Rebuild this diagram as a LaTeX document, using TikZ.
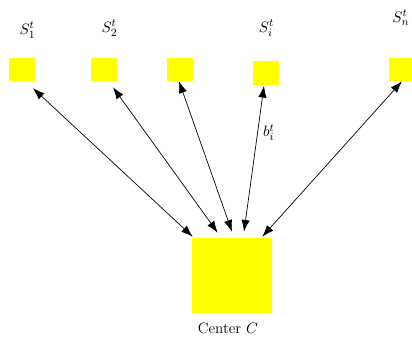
\documentclass[tikz,border=0pt]{standalone}
\usetikzlibrary{arrows.meta}
\definecolor{boxyellow}{RGB}{255,255,0}
\begin{document}
\begin{tikzpicture}[x=0.725pt,y=-0.725pt,
  every node/.style={font=\fontsize{11}{13}\selectfont},
  site/.style={fill=boxyellow,inner sep=0pt,minimum width=18.9pt,minimum height=16.7pt},
  hub/.style={fill=boxyellow,inner sep=0pt,minimum width=58pt,minimum height=54.4pt},
  link/.style={{Latex[length=8.5pt,width=6pt]}-{Latex[length=8.5pt,width=6pt]},line width=0.5pt}]
\useasboundingbox (0,0) rectangle (412,337);
% stations
\node[site] (s1) at (22,69.5) {};
\node[site] (s2) at (104,69.5) {};
\node[site] (s3) at (180,69.5) {};
\node[site] (si) at (266,73) {};
\node[site,minimum width=16.7pt] (sn) at (400.5,69.5) {};
% labels of the stations
\node (l1) at (27.5,30) {$S_1^t$};
\node (l2) at (109.5,28) {$S_2^t$};
\node (li) at (266.5,28) {$S_i^t$};
\node (ln) at (401,18) {$S_n^t$};
% center
\node[hub] (c) at (232,275.5) {};
\node (cl) at (228,328) {Center $C$};
% links
\draw[link] ([xshift=11*0.725pt,yshift=-7*0.725pt]s1.south) -- ([xshift=1*0.725pt,yshift=1*0.725pt]c.north west);
\draw[link] ([xshift=9*0.725pt,yshift=-6*0.725pt]s2.south) -- ([xshift=26*0.725pt,yshift=5*0.725pt]c.north west);
\draw[link] ([xshift=-1*0.725pt]s3.south) -- ([yshift=6*0.725pt]c.north);
\draw[link] ([xshift=-2*0.725pt,yshift=-1*0.725pt]si.south) -- ([xshift=12*0.725pt,yshift=6*0.725pt]c.north)
  node[pos=0.32,right=0.5pt] (bl) {$b_i^t$};
\draw[link] ([xshift=1.5*0.725pt]sn.south) -- ([xshift=-10*0.725pt,yshift=1*0.725pt]c.north east);
\end{tikzpicture}
\end{document}
